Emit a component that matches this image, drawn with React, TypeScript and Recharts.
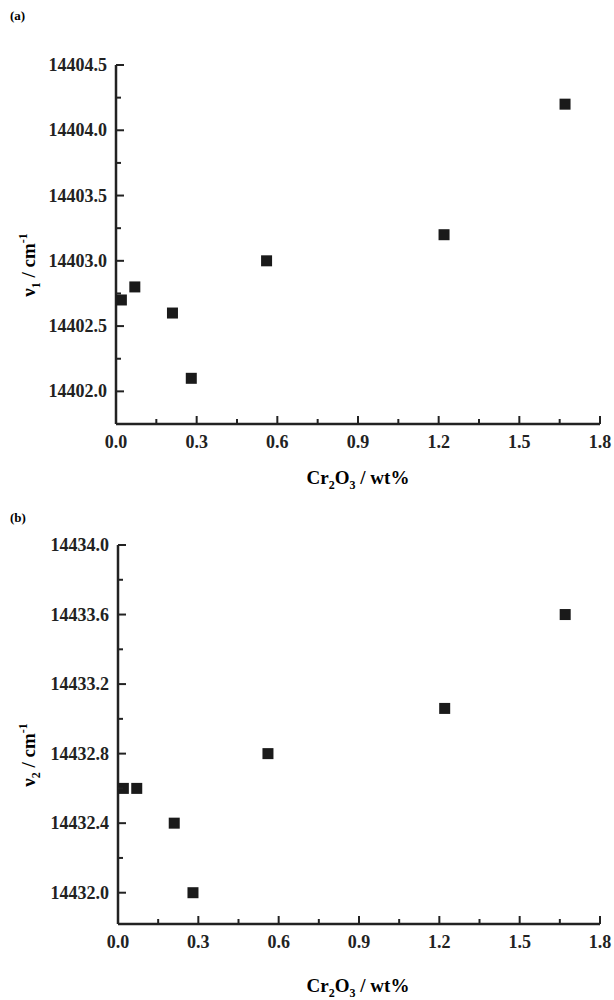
import React from "react";
import { ScatterChart, Scatter, XAxis, YAxis } from "recharts";

const xTicks = [0, 0.15, 0.3, 0.45, 0.6, 0.75, 0.9, 1.05, 1.2, 1.35, 1.5, 1.65, 1.8];
const xMajor = [0, 0.3, 0.6, 0.9, 1.2, 1.5, 1.8];

const dataA = [
  { x: 0.02, y: 14402.7 },
  { x: 0.07, y: 14402.8 },
  { x: 0.21, y: 14402.6 },
  { x: 0.28, y: 14402.1 },
  { x: 0.56, y: 14403.0 },
  { x: 1.22, y: 14403.2 },
  { x: 1.67, y: 14404.2 },
];
const yTicksA = [14402.0, 14402.25, 14402.5, 14402.75, 14403.0, 14403.25, 14403.5, 14403.75, 14404.0, 14404.25, 14404.5];
const yMajorA = [14402.0, 14402.5, 14403.0, 14403.5, 14404.0, 14404.5];

const dataB = [
  { x: 0.02, y: 14432.6 },
  { x: 0.07, y: 14432.6 },
  { x: 0.21, y: 14432.4 },
  { x: 0.28, y: 14432.0 },
  { x: 0.56, y: 14432.8 },
  { x: 1.22, y: 14433.06 },
  { x: 1.67, y: 14433.6 },
];
const yTicksB = [14432.0, 14432.2, 14432.4, 14432.6, 14432.8, 14433.0, 14433.2, 14433.4, 14433.6, 14433.8, 14434.0];
const yMajorB = [14432.0, 14432.4, 14432.8, 14433.2, 14433.6, 14434.0];

const font = "Liberation Serif, DejaVu Serif, serif";
const near = (list: number[], v: number) => list.some((m) => Math.abs(m - v) < 1e-6);

const XTick = (props: any) => {
  const { x, y, payload } = props;
  const major = near(xMajor, payload.value);
  return (
    <g>
      <line x1={x} x2={x} y1={y} y2={y - (major ? 8 : 5)} stroke="#222" strokeWidth={2} />
      {major && (
        <text x={x} y={y + 24} textAnchor="middle" fontFamily={font} fontWeight="bold" fontSize={18} fill="#222">
          {payload.value.toFixed(1)}
        </text>
      )}
    </g>
  );
};

const makeYTick = (majors: number[]) => (props: any) => {
  const { x, y, payload } = props;
  const major = near(majors, payload.value);
  return (
    <g>
      <line x1={x} x2={x + (major ? 8 : 5)} y1={y} y2={y} stroke="#222" strokeWidth={2} />
      {major && (
        <text x={x - 9} y={y + 6} textAnchor="end" fontFamily={font} fontWeight="bold" fontSize={18} fill="#222">
          {payload.value.toFixed(1)}
        </text>
      )}
    </g>
  );
};

const Square = (props: any) => {
  const { cx, cy } = props;
  return <rect x={cx - 5.5} y={cy - 5.5} width={11} height={11} fill="#1a1a1a" />;
};

function Panel({ data, domain, ticks, majors, axisWidth, top, sub, tag, tagTop, xLabelTop }: any) {
  return (
    <div style={{ position: "relative", width: 614, height: 500 }}>
      <ScatterChart width={614} height={500} margin={{ top, right: 14, bottom: 36, left: 0 }}>
        <XAxis
          type="number"
          dataKey="x"
          domain={[0, 1.8]}
          ticks={xTicks}
          interval={0}
          tickSize={0}
          tickMargin={0}
          tickLine={false}
          tick={<XTick />}
          height={40}
          axisLine={{ stroke: "#222", strokeWidth: 2.5 }}
        />
        <YAxis
          type="number"
          dataKey="y"
          domain={domain}
          ticks={ticks}
          interval={0}
          tickSize={0}
          tickMargin={0}
          tickLine={false}
          tick={makeYTick(majors)}
          width={axisWidth}
          axisLine={{ stroke: "#222", strokeWidth: 2.5 }}
        />
        <Scatter data={data} shape={<Square />} isAnimationActive={false} />
      </ScatterChart>
      <div style={{ position: "absolute", left: 10, top: tagTop, fontFamily: font, fontWeight: "bold", fontSize: 13 }}>
        {tag}
      </div>
      <div
        style={{
          position: "absolute",
          left: 30,
          top: (top + 464) / 2,
          transform: "translate(-50%, -50%) rotate(-90deg)",
          fontFamily: font,
          fontWeight: "bold",
          fontSize: 19,
          whiteSpace: "nowrap",
        }}
      >
        ν<sub style={{ fontSize: 12 }}>{sub}</sub> / cm<sup style={{ fontSize: 12 }}>-1</sup>
      </div>
      <div
        style={{
          position: "absolute",
          left: 358,
          top: xLabelTop,
          transform: "translate(-50%, -50%)",
          fontFamily: font,
          fontWeight: "bold",
          fontSize: 19,
          whiteSpace: "nowrap",
        }}
      >
        Cr<sub style={{ fontSize: 12 }}>2</sub>O<sub style={{ fontSize: 12 }}>3</sub> / wt%
      </div>
    </div>
  );
}

export default function App() {
  return (
    <div style={{ position: "absolute", left: 0, top: 0, width: 614, height: 1000, background: "#fff" }}>
      <Panel data={dataA} domain={[14401.75, 14404.5]} ticks={yTicksA} majors={yMajorA} axisWidth={116} top={65} sub="1" tag="(a)" tagTop={8} xLabelTop={480} />
      <div style={{ position: "absolute", left: 0, top: 500 }}>
        <Panel data={dataB} domain={[14431.82, 14434.0]} ticks={yTicksB} majors={yMajorB} axisWidth={118} top={45} sub="2" tag="(b)" tagTop={10} xLabelTop={488} />
      </div>
    </div>
  );
}
